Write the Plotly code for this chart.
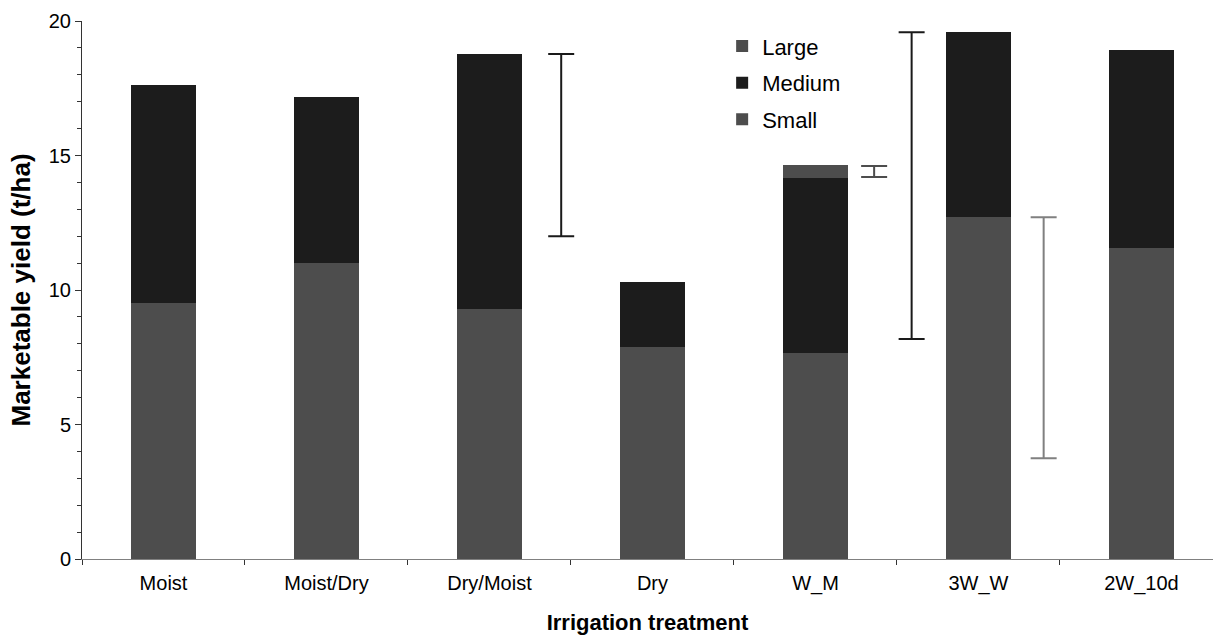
import plotly.graph_objects as go

categories = ["Moist", "Moist/Dry", "Dry/Moist", "Dry", "W_M", "3W_W", "2W_10d"]
small = [9.52, 11.02, 9.30, 7.87, 7.66, 12.70, 11.56]
medium = [8.10, 6.15, 9.47, 2.43, 6.52, 6.88, 7.36]
large = [0, 0, 0, 0, 0.45, 0, 0]

# LSD / least-significant-difference bars drawn between categories
lsd_pos = [2.44, 4.36, 4.59, 5.40]
lsd_low = [12.00, 14.20, 8.18, 3.75]
lsd_high = [18.77, 14.61, 19.58, 12.70]
lsd_colors = ["#1a1a1a", "#4d4d4d", "#1a1a1a", "#808080"]

xs = list(range(len(categories)))
FONT = "Liberation Sans, Arial, sans-serif"

fig = go.Figure()
fig.add_trace(go.Bar(x=xs, y=small, name="Small", legendgroup="s", legendrank=3,
                     marker=dict(color="#4d4d4d", line=dict(width=0)), width=0.4))
fig.add_trace(go.Bar(x=xs, y=medium, name="Medium", legendgroup="m", legendrank=2,
                     marker=dict(color="#1c1c1c", line=dict(width=0)), width=0.4))
fig.add_trace(go.Bar(x=xs, y=large, name="Large", legendgroup="l", legendrank=1,
                     marker=dict(color="#4d4d4d", line=dict(width=0)), width=0.4))

for p, lo, hi, c in zip(lsd_pos, lsd_low, lsd_high, lsd_colors):
    mid = (lo + hi) / 2
    half = (hi - lo) / 2
    fig.add_trace(go.Scatter(
        x=[p], y=[mid], mode="markers", marker=dict(size=0.1, opacity=0),
        error_y=dict(type="data", array=[half], symmetric=True, color=c, thickness=2, width=13),
        showlegend=False, hoverinfo="skip"))

fig.update_layout(
    barmode="stack",
    width=1213, height=635,
    margin=dict(l=82, r=0, t=21, b=76),
    paper_bgcolor="white", plot_bgcolor="white",
    font=dict(family=FONT, color="#000", size=20),
    legend=dict(x=0.566, y=0.992, xanchor="left", yanchor="top", traceorder="grouped",
                font=dict(size=22), bgcolor="rgba(0,0,0,0)", itemwidth=30, tracegroupgap=5),
    showlegend=True,
)
fig.update_xaxes(
    range=[-0.5, 6.439], tickvals=xs, ticktext=categories, ticks="",
    showline=True, linecolor="#808080", linewidth=1, showgrid=False, zeroline=False,
    tickfont=dict(size=20), ticklabelstandoff=6,
    minor=dict(ticks="outside", tick0=0.5, dtick=1, ticklen=5, tickcolor="#333", showgrid=False),
    title=dict(text="<b>Irrigation treatment</b>", font=dict(size=22), standoff=24),
)
fig.update_yaxes(
    range=[0, 20], tick0=0, dtick=5, ticks="outside", ticklen=6, tickcolor="#333",
    showline=True, linecolor="#333", linewidth=1, showgrid=False, zeroline=False,
    tickfont=dict(size=20),
    minor=dict(ticks="outside", dtick=1, ticklen=4, tickcolor="#333", showgrid=False),
    title=dict(text="<b>Marketable yield (t/ha)</b>", font=dict(size=26), standoff=10),
)

fig.write_html("out.html")
